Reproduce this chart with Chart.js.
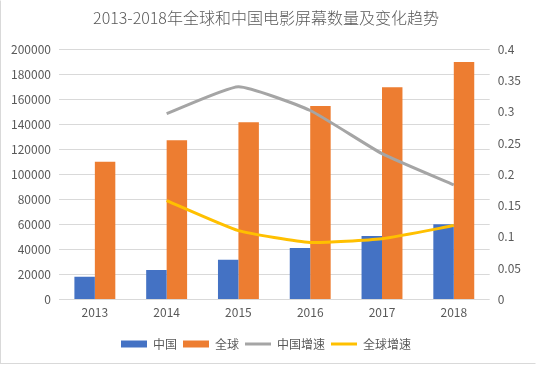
<!DOCTYPE html>
<html>
<head>
<meta charset="utf-8">
<script src="https://cdn.jsdelivr.net/npm/chart.js@4"></script>
<style>
  body { margin: 0; background: #fff; }
  #wrap { width: 534px; height: 362px; border: 1px solid #d9d9d9; border-top-color: #fff; border-right-color: #fff; }
</style>
</head>
<body>
<div id="wrap"><canvas id="chart" width="534" height="362"></canvas></div>
<script>
// data
let years = ['2013', '2014', '2015', '2016', '2017', '2018'];
let chinaScreens = [18195, 23600, 31627, 41179, 50776, 60079];
let globalScreens = [110000, 127200, 141600, 154600, 169600, 189700];
let chinaGrowth = [null, 0.297, 0.34, 0.302, 0.233, 0.183];
let globalGrowth = [null, 0.158, 0.11, 0.091, 0.097, 0.118];

const fontName = "'Noto Sans CJK SC', 'Noto Sans', sans-serif";
const textColor = '#595959';
const gridColor = '#d9d9d9';

const ctx = document.getElementById('chart').getContext('2d');

const chart = new Chart(ctx, {
    type: 'bar',
    data: {
        labels: years,
        datasets: [
            {
                label: '中国',
                data: chinaScreens,
                backgroundColor: '#4472c4',
                borderWidth: 0,
                pointStyle: 'rect',
                yAxisID: 'y',
                order: 1
            },
            {
                label: '全球',
                data: globalScreens,
                backgroundColor: '#ed7d31',
                borderWidth: 0,
                pointStyle: 'rect',
                yAxisID: 'y',
                order: 1
            },
            {
                type: 'line',
                label: '中国增速',
                data: chinaGrowth,
                borderColor: '#a5a5a5',
                backgroundColor: '#a5a5a5',
                borderWidth: 3,
                pointRadius: 0,
                pointStyle: 'line',
                tension: 0.15,
                yAxisID: 'y1',
                order: 0
            },
            {
                type: 'line',
                label: '全球增速',
                data: globalGrowth,
                borderColor: '#ffc000',
                backgroundColor: '#ffc000',
                borderWidth: 3,
                pointRadius: 0,
                pointStyle: 'line',
                tension: 0.15,
                yAxisID: 'y1',
                order: 0
            }
        ]
    },
    options: {
        responsive: false,
        animation: false,
        layout: { padding: { left: 2, right: 6, top: 4, bottom: 3 } },
        datasets: {
            bar: { categoryPercentage: 0.57, barPercentage: 1 }
        },
        plugins: {
            title: {
                display: true,
                text: '2013-2018年全球和中国电影屏幕数量及变化趋势',
                color: textColor,
                font: { family: fontName, size: 16, weight: 300 },
                padding: { top: 3, bottom: 22 }
            },
            legend: {
                position: 'bottom',
                labels: {
                    color: textColor,
                    font: { family: fontName, size: 12 },
                    usePointStyle: true,
                    pointStyleWidth: 26,
                    boxHeight: 7,
                    padding: 6,
                    sort: (a, b) => a.datasetIndex - b.datasetIndex
                }
            },
            tooltip: { enabled: false }
        },
        scales: {
            x: {
                grid: { display: false, drawTicks: false },
                border: { display: false },
                ticks: { color: textColor, font: { family: fontName, size: 12 }, padding: 6 },
                // empty title only keeps a gap between the year labels and the legend
                title: { display: true, text: ' ', font: { size: 1 }, padding: { top: 0, bottom: 5 } }
            },
            y: {
                position: 'left',
                min: 0,
                max: 200000,
                ticks: {
                    stepSize: 20000,
                    color: textColor,
                    font: { family: fontName, size: 12 },
                    padding: 8,
                    callback: v => String(v)
                },
                grid: { color: gridColor, drawTicks: false },
                border: { display: false }
            },
            y1: {
                position: 'right',
                min: 0,
                max: 0.4,
                ticks: {
                    stepSize: 0.05,
                    color: textColor,
                    font: { family: fontName, size: 12 },
                    padding: 8,
                    callback: v => String(Math.round(v * 100) / 100)
                },
                grid: { drawOnChartArea: false, drawTicks: false },
                border: { display: false }
            }
        }
    }
});
</script>
</body>
</html>
